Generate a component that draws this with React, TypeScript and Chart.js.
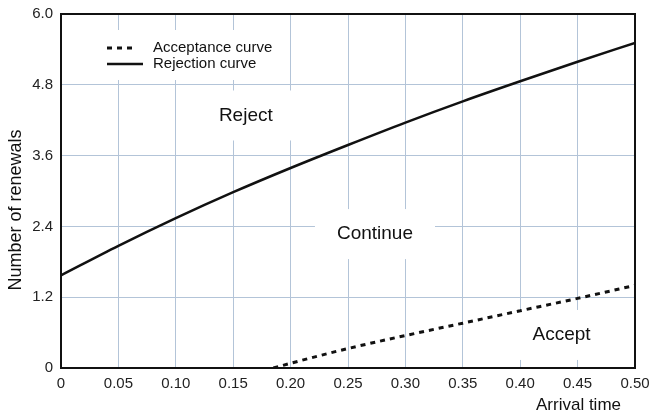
import React, { useEffect, useRef } from "react";
import { Chart, registerables } from "chart.js";

Chart.register(...registerables);

const rejectX = [0, 0.05, 0.1, 0.15, 0.2, 0.25, 0.3, 0.35, 0.4, 0.45, 0.5];
const rejectY = [1.57, 2.07, 2.54, 2.98, 3.39, 3.78, 4.16, 4.52, 4.86, 5.19, 5.51];
const acceptX = [0.185, 0.2, 0.25, 0.3, 0.35, 0.4, 0.45, 0.5];
const acceptY = [0, 0.08, 0.33, 0.55, 0.76, 0.97, 1.18, 1.4];
const xTicks = [0, 0.05, 0.1, 0.15, 0.2, 0.25, 0.3, 0.35, 0.4, 0.45, 0.5];
const yTicks = [0, 1.2, 2.4, 3.6, 4.8, 6.0];
const regionLabels = ["Reject", "Continue", "Accept"];
const regionAt = [
  [0.161, 4.28],
  [0.2735, 2.27],
  [0.436, 0.56],
];
const legendLabels = ["Acceptance curve", "Rejection curve"];
const xTitle = "Arrival time";
const yTitle = "Number of renewals";

const FONT = "'Liberation Sans', Arial, sans-serif";

const overlay = {
  id: "overlay",
  beforeDatasetsDraw(chart: any) {
    const { ctx, chartArea: a, scales } = chart;
    ctx.save();
    // legend box
    const lx = a.left + 34;
    const ly = a.top + 16;
    ctx.fillStyle = "#ffffff";
    ctx.fillRect(lx, ly, 185, 50);
    ctx.strokeStyle = "#111111";
    ctx.lineWidth = 3;
    ctx.setLineDash([5, 5]);
    ctx.beginPath();
    ctx.moveTo(a.left + 46, a.top + 34);
    ctx.lineTo(a.left + 76, a.top + 34);
    ctx.stroke();
    ctx.setLineDash([]);
    ctx.lineWidth = 2.5;
    ctx.beginPath();
    ctx.moveTo(a.left + 46, a.top + 50);
    ctx.lineTo(a.left + 82, a.top + 50);
    ctx.stroke();
    ctx.font = `15px ${FONT}`;
    ctx.textAlign = "left";
    ctx.textBaseline = "middle";
    ctx.fillStyle = "#111111";
    ctx.fillText(legendLabels[0], a.left + 92, a.top + 34);
    ctx.fillText(legendLabels[1], a.left + 92, a.top + 50);
    // region label boxes
    ctx.font = `19px ${FONT}`;
    ctx.textAlign = "center";
    ctx.textBaseline = "middle";
    regionLabels.forEach((t, i) => {
      const cx = scales.x.getPixelForValue(regionAt[i][0]);
      const cy = scales.y.getPixelForValue(regionAt[i][1]);
      const w = ctx.measureText(t).width + 44;
      const h = 50;
      ctx.fillStyle = "#ffffff";
      ctx.fillRect(cx - w / 2, cy - h / 2, w, h);
      ctx.fillStyle = "#111111";
      ctx.fillText(t, cx, cy);
    });
    ctx.restore();
  },
  afterDraw(chart: any) {
    const { ctx, chartArea: a } = chart;
    ctx.save();
    ctx.strokeStyle = "#111111";
    ctx.lineWidth = 2;
    ctx.strokeRect(a.left, a.top, a.right - a.left, a.bottom - a.top);
    ctx.fillStyle = "#111111";
    ctx.font = `17px ${FONT}`;
    ctx.textAlign = "right";
    ctx.textBaseline = "middle";
    ctx.fillText(xTitle, 621, 405);
    ctx.font = `18px ${FONT}`;
    ctx.translate(16, 210);
    ctx.rotate(-Math.PI / 2);
    ctx.textAlign = "center";
    ctx.fillText(yTitle, 0, 0);
    ctx.restore();
  },
};

export default function App() {
  const ref = useRef<HTMLCanvasElement>(null);
  useEffect(() => {
    const chart = new Chart(ref.current!, {
      type: "scatter",
      data: {
        datasets: [
          {
            label: legendLabels[0],
            data: acceptX.map((x, i) => ({ x, y: acceptY[i] })),
            showLine: true,
            borderColor: "#111111",
            borderWidth: 3,
            borderDash: [5, 5],
            pointRadius: 0,
            cubicInterpolationMode: "monotone",
          },
          {
            label: legendLabels[1],
            data: rejectX.map((x, i) => ({ x, y: rejectY[i] })),
            showLine: true,
            borderColor: "#111111",
            borderWidth: 2.5,
            pointRadius: 0,
            cubicInterpolationMode: "monotone",
          },
        ],
      },
      options: {
        responsive: false,
        animation: false,
        layout: { padding: { top: 14, right: 14, left: 0, bottom: 0 } },
        plugins: { legend: { display: false }, tooltip: { enabled: false } },
        scales: {
          x: {
            type: "linear",
            min: 0,
            max: 0.5,
            afterBuildTicks: (s: any) => {
              s.ticks = xTicks.map((v) => ({ value: v }));
            },
            afterFit: (s: any) => {
              s.height = 48;
              s.paddingRight = 0;
              s.paddingLeft = 0;
            },
            grid: { color: "#b3c4d8", lineWidth: 1, drawTicks: false },
            border: { color: "#111111", width: 2 },
            ticks: {
              padding: 7,
              color: "#222222",
              font: { family: FONT, size: 15 },
              maxRotation: 0,
              autoSkip: false,
              callback: (v: any) => (v === 0 ? "0" : Number(v).toFixed(2)),
            },
          },
          y: {
            type: "linear",
            min: 0,
            max: 6,
            afterBuildTicks: (s: any) => {
              s.ticks = yTicks.map((v) => ({ value: v }));
            },
            afterFit: (s: any) => {
              s.width = 61;
              s.paddingTop = 0;
              s.paddingBottom = 0;
            },
            grid: { color: "#b3c4d8", lineWidth: 1, drawTicks: false },
            border: { color: "#111111", width: 2 },
            ticks: {
              padding: 8,
              color: "#222222",
              font: { family: FONT, size: 15 },
              autoSkip: false,
              callback: (v: any) => (v === 0 ? "0" : Number(v).toFixed(1)),
            },
          },
        },
      },
      plugins: [overlay],
    } as any);
    return () => chart.destroy();
  }, []);
  return (
    <canvas
      ref={ref}
      width={649}
      height={416}
      style={{ position: "fixed", left: 0, top: 0, background: "#ffffff" }}
    />
  );
}
